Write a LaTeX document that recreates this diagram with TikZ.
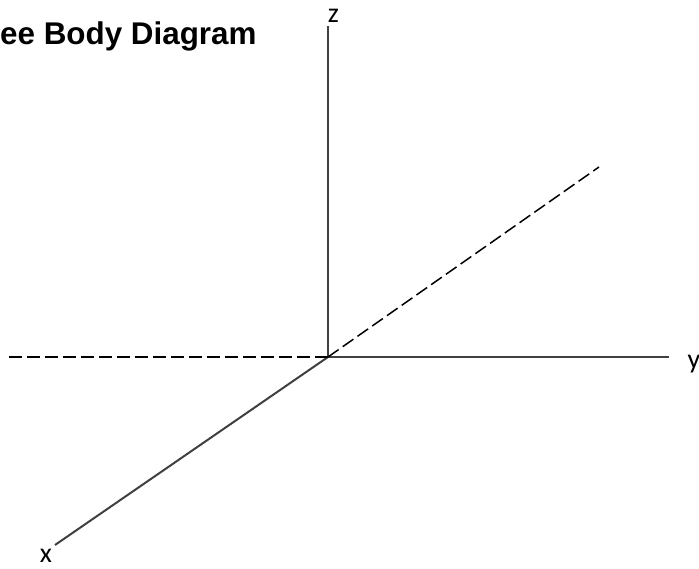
\documentclass[tikz,border=0pt]{standalone}
\usepackage{fontspec}
\setmainfont{Liberation Sans}
\newfontfamily\axisfont{Carlito}
\usetikzlibrary{positioning}

\begin{document}
\begin{tikzpicture}[x=1bp, y=-1bp,
  axis/.style={draw=black!75, line width=2bp},
  hidden/.style={draw=black, line width=1.5bp, dash pattern=on 13bp off 5bp},
  axislabel/.style={font=\axisfont\fontsize{28}{32}\selectfont, inner sep=0pt, anchor=base}]
\useasboundingbox (0,0) rectangle (699,569);
\node[anchor=base west, inner sep=0pt, font=\bfseries\fontsize{31.5}{36}\selectfont] (title) at (0,45) {ee Body Diagram};
\coordinate (origin) at (328,357);
\coordinate (zend) at (328,26);
\coordinate (yend) at (669,357);
\coordinate (xend) at (55,545);
\coordinate (back) at (599,167);
\coordinate (left) at (6,357);
\draw[axis] (origin) -- (zend);
\draw[axis] (origin) -- (yend);
\draw[axis] (origin) -- (xend);
\draw[hidden] (origin) -- (back);
\draw[hidden] (origin) -- (left);
\node[axislabel] (zlab) at (333.5,23) {z};
\node[axislabel] (ylab) at (694,368) {y};
\node[axislabel] (xlab) at (46,562) {x};
\end{tikzpicture}
\end{document}
